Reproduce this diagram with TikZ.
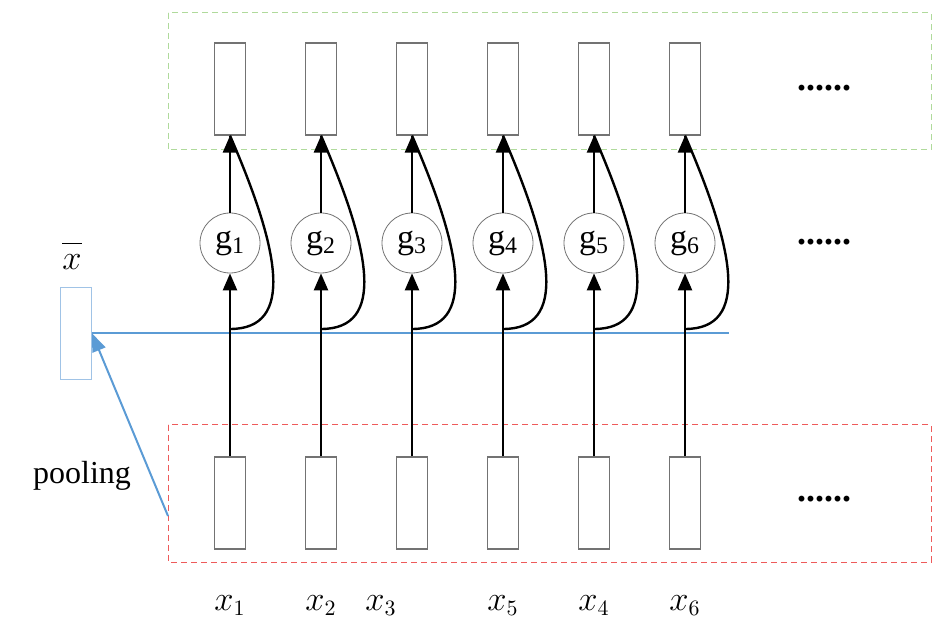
\documentclass[tikz,border=0pt]{standalone}
\usepackage{fontspec}
\setmainfont{Liberation Serif}
\usetikzlibrary{arrows.meta, positioning}

\definecolor{poolblue}{RGB}{91,155,213}
\definecolor{boxblue}{RGB}{160,195,230}
\definecolor{topgreen}{RGB}{175,218,155}
\definecolor{botred}{RGB}{238,90,90}

\begin{document}
\begin{tikzpicture}[x=0.5pt, y=-0.5pt,
cell/.style={rectangle, draw=black!55, line width=0.6pt, inner sep=0pt,
    minimum width=15.5pt, minimum height=46pt},
avg/.style={cell, draw=boxblue},
gate/.style={circle, draw=black!55, line width=0.4pt, inner sep=0pt,
    minimum size=30pt, font=\fontsize{17}{17}\selectfont},
flow/.style={draw, line width=1.2pt, -{Triangle[length=8.5pt, width=7pt]}},
skip/.style={draw, line width=1.2pt},
pool/.style={draw=poolblue, line width=1pt},
group/.style={draw, line width=0.5pt, dash pattern=on 3pt off 2pt},
dots/.style={font=\fontsize{18}{18}\selectfont\bfseries, anchor=base},
label/.style={font=\fontsize{16}{16}\selectfont, anchor=base}
]
\useasboundingbox (0,0) rectangle (941,624);

% groups
\draw[group, topgreen] (168,13) rectangle (931,150);
\draw[group, botred] (168,425) rectangle (931,562);

% columns
\foreach \i/\x in {1/230,2/321,3/412,4/503,5/594,6/685}{
  \node[cell] (top\i) at (\x,89) {};
  \node[gate, below=38.5pt of top\i] (g\i) {g\textsubscript{\i}};
  \node[cell, below=91.5pt of g\i] (bot\i) {};
  \coordinate (j\i) at (\x,329);
}

% pooled vector
\node[avg] (xbar) at (76,333.5) {};
\node[font=\fontsize{18}{18}\selectfont, anchor=base] (xbarlabel) at (72,270) {$\overline{\vphantom{A}x}$};
\node[font=\fontsize{16}{16}\selectfont] (poolinglabel) at (82,476) {pooling};
\coordinate (poolend) at (729,333.5);
\coordinate (poolsrc) at (168,516);
\draw[pool] (xbar.east) -- (poolend);
\draw[pool, -{Triangle[length=9pt, width=7pt]}] (poolsrc) -- (xbar.east);

% connections
\foreach \i in {1,...,6}{
  \draw[flow] (bot\i) -- (g\i);
  \draw[flow] (g\i) -- (top\i);
  \draw[skip] (j\i) .. controls +(65,0) and +(50,115) .. (top\i.south);
}

% dots
\node[dots] (dotstop) at (824,91) {......};
\node[dots] (dotsmid) at (824,245) {......};
\node[dots] (dotsbot) at (824,501) {......};

% inputs
\node[label] (in1) at (230,610) {$x_1$};
\node[label] (in2) at (321,610) {$x_2$};
\node[label] (in3) at (381,610) {$x_3$};
\node[label] (in5) at (503,610) {$x_5$};
\node[label] (in4) at (594,610) {$x_4$};
\node[label] (in6) at (685,610) {$x_6$};
\end{tikzpicture}
\end{document}
